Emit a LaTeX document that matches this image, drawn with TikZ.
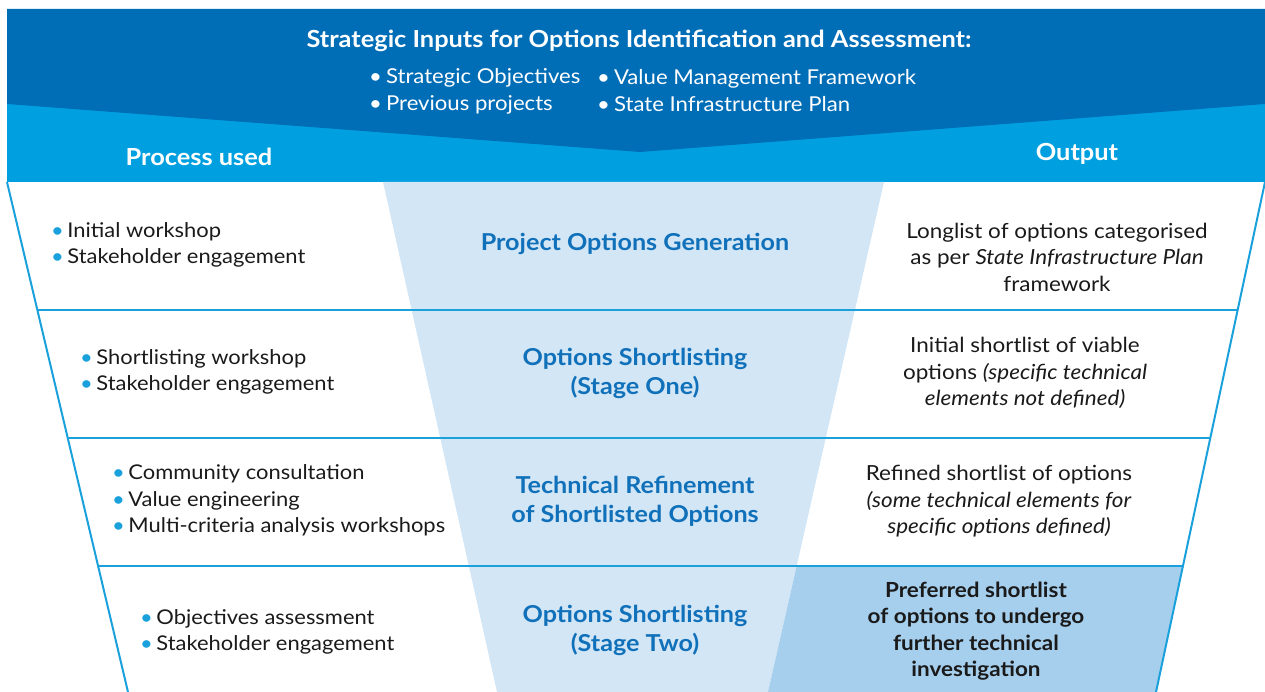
\documentclass[tikz,border=0pt]{standalone}
\usepackage{fontspec}
\setmainfont[FakeStretch=1.08]{Lato}
\usetikzlibrary{calc}
\definecolor{darkband}{RGB}{0,109,183}
\definecolor{lightband}{RGB}{0,160,224}
\definecolor{funnelfill}{RGB}{211,230,245}
\definecolor{cellfill}{RGB}{166,206,237}
\definecolor{rulecol}{RGB}{26,161,220}
\definecolor{titleblue}{RGB}{16,113,186}
\definecolor{bodytext}{RGB}{26,26,26}
\newcommand{\bul}{{\color{rulecol}\textbullet}\hspace{3.5pt}}
\newcommand{\wbul}{\textbullet\hspace{4pt}}
\tikzset{
  hdr/.style={text=white, font=\fontsize{23.5}{27}\selectfont\bfseries, inner sep=0pt},
  hbul/.style={text=white, font=\fontsize{20.5}{27}\selectfont, inner sep=0pt, align=left, anchor=west},
  proc/.style={text=bodytext, font=\fontsize{20.3}{26.5}\selectfont, inner sep=0pt, align=left, anchor=west},
  stage/.style={text=titleblue, font=\fontsize{23.3}{29}\selectfont\bfseries, inner sep=0pt, align=center},
  outp/.style={text=bodytext, font=\fontsize{20.8}{26.5}\selectfont, inner sep=0pt, align=center},
  rule/.style={draw=rulecol, line width=2pt},
}
\begin{document}
\begin{tikzpicture}[x=1pt,y=-1pt]
\useasboundingbox (0,0) rectangle (1265,692);
% corner coordinates
\coordinate (bandTL) at (7,9);
\coordinate (bandTR) at (1265,9);
\coordinate (bandBR) at (1265,182);
\coordinate (darkR) at (1265,104);
\coordinate (darkM) at (640,152);
\coordinate (darkL) at (7,104);
\coordinate (fTL) at (383,182);
\coordinate (fTR) at (884,182);
\coordinate (fBR) at (768,692);
\coordinate (fBL) at (497,692);
\coordinate (oTL) at (7,182);
\coordinate (oBL) at (128,692);
\coordinate (oTR) at (1265,182);
\coordinate (oBR) at (1156,692);
% bands
\fill[lightband] (bandTL) rectangle (bandBR);
\fill[darkband] (bandTL) -- (bandTR) -- (darkR) -- (darkM) -- (darkL) -- cycle;
% funnel
\fill[funnelfill] (fTL) -- (fTR) -- (fBR) -- (fBL) -- cycle;
\coordinate (cTL) at ($(fTR)!0.7529!(fBR)$);
\coordinate (cTR) at ($(oTR)!0.7529!(oBR)$);
\fill[cellfill] (cTL) -- (cTR) -- (oBR) -- (fBR) -- cycle;
% row separators
\foreach \ff in {0.25098,0.50196,0.75294}{
  \draw[rule] ($(oTL)!\ff!(oBL)$) -- ($(oTR)!\ff!(oBR)$);
}
\draw[rule] (oTL) -- (oBL);
\draw[rule] (oTR) -- (oBR);
% header texts
\node[hdr] (title) at (639,41) {Strategic Inputs for Options Identification and Assessment:};
\node[hbul] (inA) at (369,91) {\wbul Strategic Objectives\\\wbul Previous projects};
\node[hbul] (inB) at (597,91) {\wbul Value Management Framework\\\wbul State Infrastructure Plan};
\node[hdr] (proc) at (199,157) {Process used};
\node[hdr] (outh) at (1077,154) {Output};
% row 1
\node[proc] (p1) at (51,245) {\bul Initial workshop\\\bul Stakeholder engagement};
\node[stage] (s1) at (635,244) {Project Options Generation};
\node[outp] (o1) at (1057,257) {Longlist of options categorised\\as per \textit{State Infrastructure Plan}\\framework};
% row 2
\node[proc] (p2) at (80,372) {\bul Shortlisting workshop\\\bul Stakeholder engagement};
\node[stage] (s2) at (635,373) {Options Shortlisting\\(Stage One)};
\node[outp] (o2) at (1025,373) {Initial shortlist of viable\\options \textit{(specific technical}\\\textit{elements not defined)}};
% row 3
\node[proc] (p3) at (112,500.5) {\bul Community consultation\\\bul Value engineering\\\bul Multi-criteria analysis workshops};
\node[stage] (s3) at (635,501.5) {Technical Refinement\\of Shortlisted Options};
\node[outp] (o3) at (999,501.5) {Refined shortlist of options\\\textit{(some technical elements for}\\\textit{specific options defined)}};
% row 4
\node[proc] (p4) at (140,632) {\bul Objectives assessment\\\bul Stakeholder engagement};
\node[stage] (s4) at (635,630.5) {Options Shortlisting\\(Stage Two)};
\node[outp,font=\fontsize{20.8}{26.5}\selectfont\bfseries] (o4) at (976,631) {Preferred shortlist\\of options to undergo\\further technical\\investigation};
\end{tikzpicture}
\end{document}
